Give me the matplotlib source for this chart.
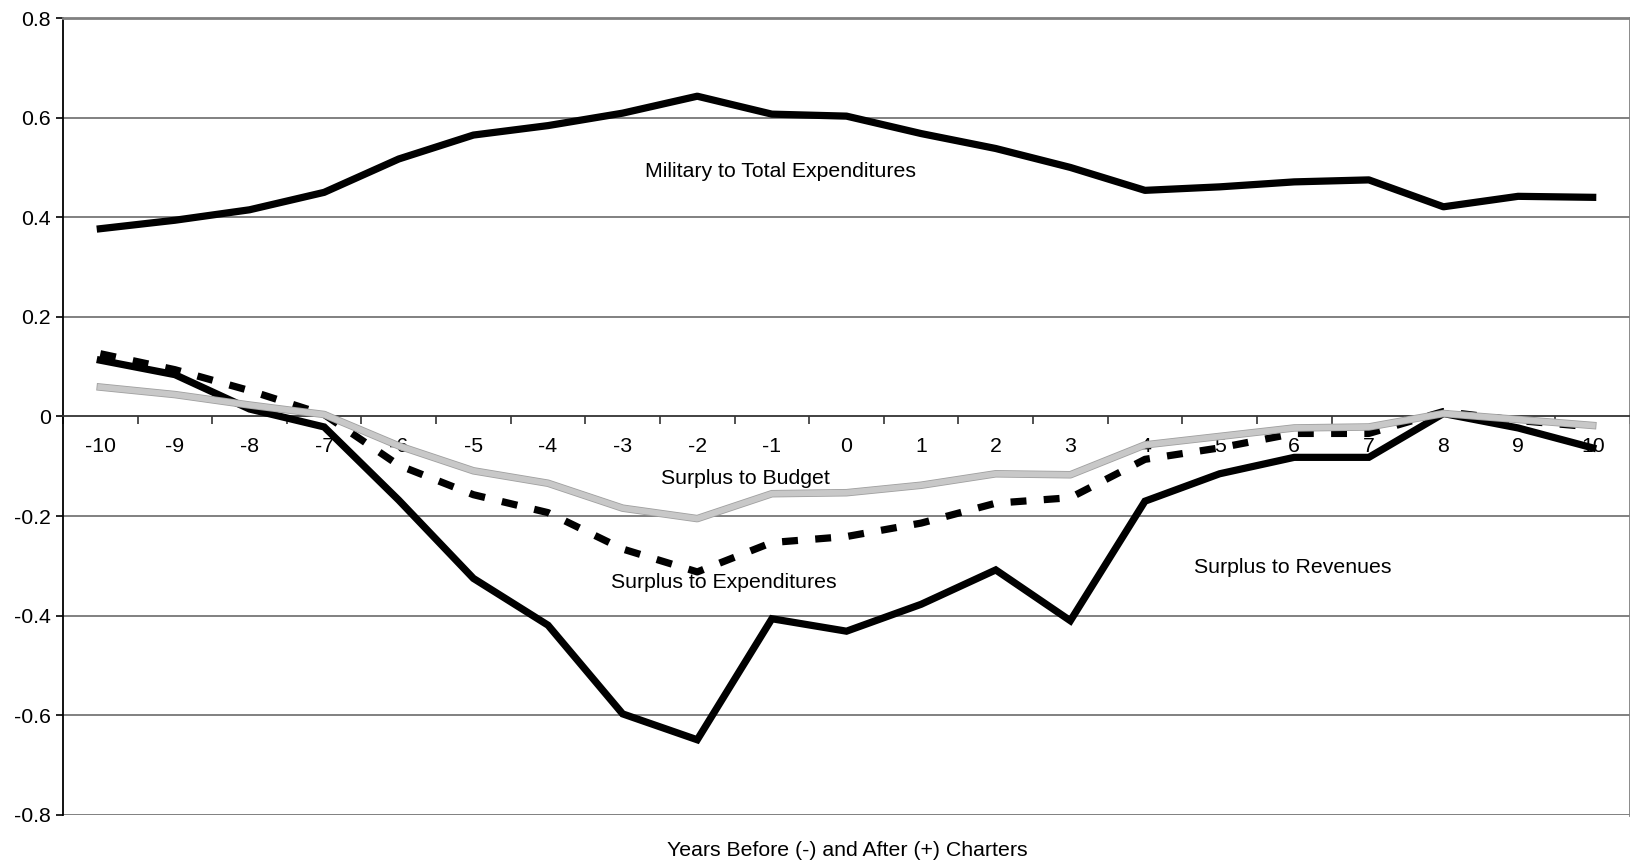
import matplotlib
matplotlib.use("Agg")
import matplotlib.pyplot as plt
import matplotlib.patheffects as pe
from matplotlib.ticker import FixedLocator, FuncFormatter

plt.rcParams['font.family'] = ['Liberation Sans', 'DejaVu Sans']

years = list(range(-10, 11))
military = [0.377, 0.394, 0.415, 0.450, 0.517, 0.565, 0.584, 0.609, 0.643, 0.607, 0.603,
            0.568, 0.538, 0.500, 0.454, 0.461, 0.471, 0.475, 0.421, 0.442, 0.440]
surplus_revenues = [0.113, 0.084, 0.015, -0.021, -0.168, -0.325, -0.419, -0.597, -0.649, -0.406, -0.431,
                    -0.377, -0.308, -0.410, -0.170, -0.115, -0.082, -0.082, 0.006, -0.023, -0.063]
surplus_expenditures = [0.126, 0.094, 0.052, 0.004, -0.098, -0.157, -0.193, -0.266, -0.312, -0.253, -0.241,
                        -0.214, -0.174, -0.163, -0.086, -0.063, -0.034, -0.034, 0.010, -0.008, -0.021]
surplus_budget = [0.059, 0.044, 0.023, 0.004, -0.059, -0.109, -0.134, -0.184, -0.205, -0.155, -0.153,
                  -0.138, -0.115, -0.117, -0.057, -0.040, -0.023, -0.021, 0.006, -0.006, -0.018]
y_ticks = [-0.8, -0.6, -0.4, -0.2, 0, 0.2, 0.4, 0.6, 0.8]

FS = 15.3
W, H = 1631, 868
fig = plt.figure(figsize=(W / 100, H / 100), dpi=100)
ax = fig.add_axes([63 / W, 1 - 815 / H, (1630 - 63) / W, (815 - 18) / H])

ax.set_xlim(-10.5, 10.5)
ax.set_ylim(-0.8, 0.8)

# gridlines
for v in y_ticks:
    if v != 0:
        ax.axhline(v, color='#808080', lw=1.4, zorder=1)

ax.plot(years, military, color='black', lw=5.2, solid_joinstyle='round', zorder=3)
ax.plot(years, surplus_revenues, color='black', lw=5.2, solid_joinstyle='miter', zorder=3)
ax.plot(years, surplus_expenditures, color='black', lw=5.2, dashes=(2.2, 2.4), zorder=4)
ax.plot(years, surplus_budget, color='#c8c8c8', lw=4.2, zorder=5,
        path_effects=[pe.Stroke(linewidth=5.4, foreground='#a0a0a0'), pe.Normal()])

# spines
ax.spines['bottom'].set_position(('data', 0))
ax.spines['bottom'].set_color('#333333')
ax.spines['bottom'].set_linewidth(1.3)
ax.spines['left'].set_color('black')
ax.spines['left'].set_linewidth(1.3)
for s in ('top', 'right'):
    ax.spines[s].set_color('#808080')
    ax.spines[s].set_linewidth(2.0)

# x ticks: marks at category boundaries, labels at categories
ax.xaxis.set_major_locator(FixedLocator([y + 0.5 for y in range(-11, 11)]))
ax.xaxis.set_minor_locator(FixedLocator(years))
ax.xaxis.set_major_formatter(FuncFormatter(lambda v, p: ''))
ax.xaxis.set_minor_formatter(FuncFormatter(lambda v, p: f'{int(round(v))}'))
ax.tick_params(axis='x', which='major', direction='out', length=6, width=1.2, color='#333333')
ax.tick_params(axis='x', which='minor', length=0, pad=15, labelsize=FS)

ax.set_yticks(y_ticks)
ax.yaxis.set_major_formatter(FuncFormatter(lambda v, p: '0' if abs(v) < 1e-9 else f'{v:.1f}'))
ax.tick_params(axis='y', direction='out', length=5, width=1.2, labelsize=FS, pad=4)

ax.text(-0.89, 0.491, 'Military to Total Expenditures', ha='center', va='center', fontsize=FS, zorder=6)
ax.text(-1.35, -0.125, 'Surplus to Budget', ha='center', va='center', fontsize=FS, zorder=6)
ax.text(-1.64, -0.334, 'Surplus to Expenditures', ha='center', va='center', fontsize=FS, zorder=6)
ax.text(5.98, -0.304, 'Surplus to Revenues', ha='center', va='center', fontsize=FS, zorder=6)

fig.text(847 / W, 1 - 851 / H, 'Years Before (-) and After (+) Charters',
         ha='center', va='center', fontsize=FS)

fig.savefig('out.png', dpi=100)
